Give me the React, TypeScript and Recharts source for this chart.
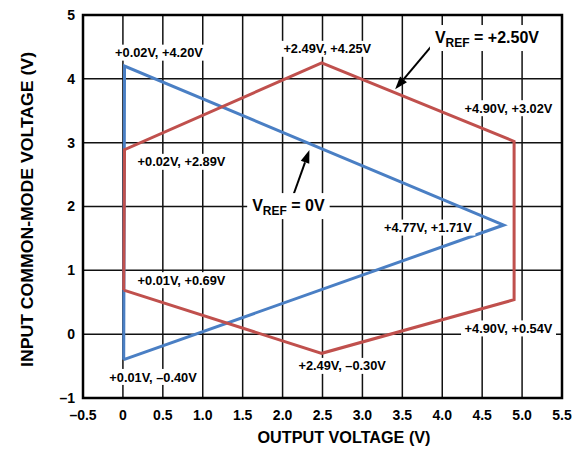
import React from 'react';
import { LineChart, Line, XAxis, YAxis, CartesianGrid, ReferenceArea, ReferenceDot, ReferenceLine } from 'recharts';

// x ticks (V) and y ticks (V)
const xTicks = [-0.5, 0, 0.5, 1.0, 1.5, 2.0, 2.5, 3.0, 3.5, 4.0, 4.5, 5.0, 5.5];
const yTicks = [-1, 0, 1, 2, 3, 4, 5];

// VREF = 0V contour (closed)
const blueX = [0.01, 0.02, 4.77, 0.01];
const blueY = [-0.40, 4.20, 1.71, -0.40];

// VREF = +2.50V contour (closed)
const redX = [0.01, 0.02, 2.49, 4.90, 4.90, 2.49, 0.01];
const redY = [0.69, 2.89, 4.25, 3.02, 0.54, -0.30, 0.69];

const blueData = blueX.map((x, i) => ({ x, y: blueY[i] }));
const redData = redX.map((x, i) => ({ x, y: redY[i] }));

// vertex callouts, placed in data space
const callouts = [
    { text: '+0.02V, +4.20V', x: 0.452, y: 4.41 },
    { text: '+2.49V, +4.25V', x: 2.56, y: 4.47 },
    { text: '+4.90V, +3.02V', x: 4.83, y: 3.54 },
    { text: '+0.02V, +2.89V', x: 0.734, y: 2.70 },
    { text: '+4.77V, +1.71V', x: 3.82, y: 1.67 },
    { text: '+0.01V, +0.69V', x: 0.734, y: 0.846 },
    { text: '+0.01V, \u20130.40V', x: 0.377, y: -0.67 },
    { text: '+4.90V, +0.54V', x: 4.83, y: 0.09 },
    { text: '+2.49V, \u20130.30V', x: 2.746, y: -0.497 },
];

const FONT = '"Liberation Sans", Arial, Helvetica, sans-serif';

const charW: Record<string, number> = { '.': 0.278, ',': 0.278, ' ': 0.278, '+': 0.584, 'V': 0.667, '=': 0.584 };
const textWidth = (s: string, size: number) =>
    s.split('').reduce((acc, c) => acc + (charW[c] ?? 0.556), 0) * size;

const fmt = (v: number, digits: number) => {
    if (v === 0) return '0';
    const s = Math.abs(v).toFixed(digits);
    return v < 0 ? '\u2013' + s : s;
};

const Callout = (text: string) => (props: any) => {
    const { cx, cy } = props;
    const size = 12.8;
    const w = textWidth(text, size) + 6;
    return (
        <g>
            <rect x={cx - w / 2} y={cy - 8} width={w} height={16} fill="#fff" />
            <text x={cx} y={cy + 4.6} textAnchor="middle" fontFamily={FONT} fontWeight="bold" fontSize={size} fill="#000">
                {text}
            </text>
        </g>
    );
};

const VrefLabel = (value: string) => (props: any) => {
    const { cx, cy } = props;
    const w = textWidth('V' + value, 16) + 24 + 10;
    return (
        <g>
            <rect x={cx - w / 2} y={cy - 12} width={w} height={26} fill="#fff" />
            <text x={cx} y={cy + 5.7} textAnchor="middle" fontFamily={FONT} fontWeight="bold" fontSize={16} fill="#000">
                <tspan>V</tspan>
                <tspan dy={4} fontSize={12}>REF</tspan>
                <tspan dy={-4}>{value}</tspan>
            </text>
        </g>
    );
};

const Arrow = (props: any) => {
    const { x1, y1, x2, y2 } = props;
    const dx = x2 - x1;
    const dy = y2 - y1;
    const len = Math.sqrt(dx * dx + dy * dy) || 1;
    const ux = dx / len;
    const uy = dy / len;
    const head = 13;
    const half = 4.5;
    const bx = x2 - ux * head;
    const by = y2 - uy * head;
    return (
        <g>
            <line x1={x1} y1={y1} x2={bx} y2={by} stroke="#000" strokeWidth={2} />
            <polygon
                points={`${x2},${y2} ${bx - uy * half},${by + ux * half} ${bx + uy * half},${by - ux * half}`}
                fill="#000"
            />
        </g>
    );
};

export default function App() {
    return (
        <div style={{ position: 'absolute', left: 0, top: 0, width: 581, height: 451, background: '#fff' }}>
            <LineChart width={581} height={451} margin={{ top: 15, right: 19, bottom: 0, left: 0 }}>
                <CartesianGrid stroke="#111" strokeWidth={1.5} />
                <XAxis
                    type="number"
                    dataKey="x"
                    domain={[-0.5, 5.5]}
                    ticks={xTicks}
                    interval={0}
                    height={53}
                    axisLine={false}
                    tickLine={false}
                    tickSize={0}
                    tickMargin={12}
                    tickFormatter={(v) => fmt(v, 1)}
                    tick={{ fill: '#000', fontFamily: FONT, fontWeight: 'bold', fontSize: 14 }}
                    label={{
                        content: () => (
                            <text x={344} y={443} textAnchor="middle" textLength={173} lengthAdjust="spacingAndGlyphs" fontFamily={FONT} fontWeight="bold" fontSize={16} fill="#000">
                                OUTPUT VOLTAGE (V)
                            </text>
                        ),
                    }}
                />
                <YAxis
                    type="number"
                    dataKey="y"
                    domain={[-1, 5]}
                    ticks={yTicks}
                    interval={0}
                    width={83}
                    axisLine={false}
                    tickLine={false}
                    tickSize={0}
                    tickMargin={8}
                    tickFormatter={(v) => fmt(v, 0)}
                    tick={{ fill: '#000', fontFamily: FONT, fontWeight: 'bold', fontSize: 14 }}
                    label={{
                        content: () => (
                            <text
                                x={33}
                                y={209.5}
                                transform="rotate(-90 33 209.5)"
                                textAnchor="middle"
                                textLength={315}
                                lengthAdjust="spacingAndGlyphs"
                                fontFamily={FONT}
                                fontWeight="bold"
                                fontSize={16}
                                fill="#000"
                            >
                                INPUT COMMON-MODE VOLTAGE (V)
                            </text>
                        ),
                    }}
                />
                <ReferenceArea x1={-0.5} x2={5.5} y1={-1} y2={5} fill="none" stroke="#000" strokeWidth={2.5} fillOpacity={0} ifOverflow="visible" />

                {callouts.map((c, i) => (
                    <ReferenceDot key={`c-${i}`} x={c.x} y={c.y} r={0} ifOverflow="visible" shape={Callout(c.text)} />
                ))}
                <ReferenceDot x={4.56} y={4.655} r={0} ifOverflow="visible" shape={VrefLabel(' = +2.50V')} />
                <ReferenceDot x={2.073} y={2.022} r={0} ifOverflow="visible" shape={VrefLabel(' = 0V')} />

                <Line data={blueData} dataKey="y" type="linear" stroke="#4a7fc4" strokeWidth={3} dot={false} isAnimationActive={false} />
                <Line data={redData} dataKey="y" type="linear" stroke="#c0504d" strokeWidth={3} dot={false} isAnimationActive={false} />

                <ReferenceLine segment={[{ x: 3.87, y: 4.52 }, { x: 3.41, y: 3.835 }]} ifOverflow="visible" shape={Arrow} />
                <ReferenceLine segment={[{ x: 2.135, y: 2.18 }, { x: 2.336, y: 2.884 }]} ifOverflow="visible" shape={Arrow} />
            </LineChart>
        </div>
    );
}
